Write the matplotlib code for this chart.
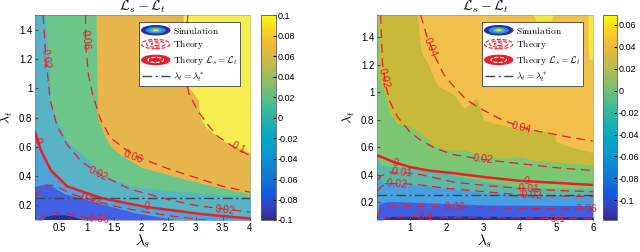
import numpy as np
import matplotlib
matplotlib.use('Agg')
import matplotlib.pyplot as plt
from matplotlib.colors import LinearSegmentedColormap, Normalize
from matplotlib.cm import ScalarMappable
from matplotlib.patches import Ellipse, Patch
from matplotlib.lines import Line2D
from matplotlib.legend_handler import HandlerBase

plt.rcParams['mathtext.fontset'] = 'cm'
plt.rcParams['font.family'] = ['Liberation Sans', 'DejaVu Sans']

# ---- parula (approx.) ----
PARULA = ['#352a87', '#3145c5', '#0f5cdd', '#1375d3', '#0d88d2', '#0a9bd1',
          '#06a7c6', '#1bb0b4', '#38b99d', '#5fbd87', '#8cbd6b', '#b3bc56',
          '#d6ba44', '#f5bb33', '#f6d624', '#f9fb0e']
parula = LinearSegmentedColormap.from_list('parula', PARULA)

# ===== left panel data =====
left_xlim = (0.05, 4.0)
left_ylim = (0.1, 1.5)
left_clim = (-0.1, 0.1)
left_xticks = [0.5, 1, 1.5, 2, 2.5, 3, 3.5, 4]
left_yticks = [0.2, 0.4, 0.6, 0.8, 1.0, 1.2, 1.4]
left_cticks = [-0.1, -0.08, -0.06, -0.04, -0.02, 0, 0.02, 0.04, 0.06, 0.08, 0.1]

# simulation bands: colour of each band, lower boundary (x, y) of each band
left_band_colors = ['#2f2a94', '#4262e6', '#4fa3da', '#58b3c4', '#6cc68a', '#e6b64c', '#f6ee50']
left_b_blue = [(0.05, 0.1), (0.18, 0.1), (0.25, 0.125), (0.4, 0.135), (0.6, 0.135),
               (0.8, 0.12), (0.92, 0.1), (4.0, 0.1)]
left_b_light = [(0.05, 0.33), (0.27, 0.35), (0.59, 0.28), (1.27, 0.21), (1.88, 0.15),
                (2.49, 0.11), (2.8, 0.1), (4.0, 0.1)]
left_b_teal = [(0.05, 0.62), (0.2, 0.55), (0.35, 0.45), (0.64, 0.33), (1.27, 0.25),
               (2.0, 0.19), (3.0, 0.15), (4.0, 0.12)]
left_b_green = [(0.23, 1.5), (0.3, 1.2), (0.33, 0.92), (0.45, 0.78), (0.6, 0.66),
                (0.75, 0.6), (1.0, 0.52), (1.27, 0.42), (1.6, 0.36), (1.88, 0.33),
                (2.49, 0.3), (3.12, 0.28), (4.0, 0.26)]
left_b_orange = [(1.17, 1.5), (1.2, 0.8), (1.3, 0.7), (1.44, 0.6), (1.6, 0.55),
                 (1.87, 0.49), (2.0, 0.46), (2.6, 0.4), (3.23, 0.34), (4.0, 0.28)]
left_b_yellow = [(2.77, 1.5), (2.78, 1.08), (2.89, 1.0), (3.05, 0.92), (3.08, 0.8),
                 (3.2, 0.73), (3.5, 0.64), (3.75, 0.6), (4.0, 0.56)]

# theory contours
left_t_p010 = [(2.86, 1.5), (2.8, 1.3), (2.8, 1.1), (2.88, 0.96), (3.05, 0.84),
               (3.25, 0.74), (3.41, 0.67), (3.7, 0.6), (4.0, 0.54)]
left_t_p006 = [(0.98, 1.5), (0.98, 1.3), (1.03, 1.1), (1.1, 0.97), (1.25, 0.79),
               (1.44, 0.66), (1.87, 0.54), (2.5, 0.45), (3.0, 0.39), (3.5, 0.33), (4.0, 0.29)]
left_t_p002 = [(0.2, 1.5), (0.25, 1.2), (0.33, 0.92), (0.45, 0.75), (0.63, 0.62),
               (0.9, 0.5), (1.25, 0.41), (1.8, 0.31), (2.5, 0.24), (3.0, 0.2),
               (3.5, 0.175), (4.0, 0.155)]
left_t_zero = [(0.05, 0.7), (0.155, 0.58), (0.34, 0.44), (0.64, 0.33), (1.27, 0.25),
               (2.07, 0.19), (3.12, 0.14), (4.0, 0.11)]
left_t_m002 = [(0.05, 0.26), (0.2, 0.32), (0.35, 0.34), (0.5, 0.32), (0.7, 0.28),
               (1.0, 0.245), (1.5, 0.195), (2.0, 0.16), (2.5, 0.13), (3.0, 0.106), (3.2, 0.1)]
left_t_m006 = [(0.12, 0.1), (0.2, 0.125), (0.35, 0.145), (0.5, 0.15), (0.7, 0.14),
               (0.9, 0.125), (1.1, 0.11), (1.4, 0.1)]
left_labels = [('0.1', 3.78, 0.59), ('0.06', 0.98, 1.33), ('0.06', 1.85, 0.535),
               ('0.02', 0.25, 1.2), ('0.02', 1.2, 0.415), ('0.02', 3.55, 0.17),
               ('0', 0.1, 0.64), ('0', 2.1, 0.19), ('-0.02', 1.05, 0.24), ('-0.06', 1.2, 0.105)]

# ===== right panel data =====
right_xlim = (0.1, 6.0)
right_ylim = (0.07, 1.56)
right_clim = (-0.118, 0.069)
right_xticks = [1, 2, 3, 4, 5, 6]
right_yticks = [0.2, 0.4, 0.6, 0.8, 1.0, 1.2, 1.4]
right_cticks = [-0.1, -0.08, -0.06, -0.04, -0.02, 0, 0.02, 0.04, 0.06]

right_band_colors = ['#2f2a94', '#3f5fe6', '#479fe0', '#5cb8a6', '#7bc774', '#c8b93a', '#f0c04a']
right_b_blue = [(0.1, 0.07), (0.25, 0.07), (0.32, 0.095), (2.0, 0.1), (4.0, 0.095), (6.0, 0.092)]
right_b_light = [(0.1, 0.1), (0.16, 0.19), (0.4, 0.205), (1.0, 0.2), (2.0, 0.19),
                 (3.0, 0.18), (4.0, 0.178), (6.0, 0.175)]
right_b_teal = [(0.1, 0.42), (0.25, 0.34), (1.0, 0.33), (2.0, 0.3), (3.0, 0.27),
                (4.0, 0.255), (6.0, 0.25)]
right_b_green = [(0.1, 0.55), (0.2, 0.47), (1.0, 0.45), (2.0, 0.41), (3.0, 0.35),
                 (4.0, 0.31), (5.0, 0.3), (6.0, 0.3)]
right_b_olive = [(0.13, 1.56), (0.15, 1.1), (0.3, 1.0), (0.45, 0.85), (0.66, 0.77),
                 (1.0, 0.75), (1.3, 0.7), (1.6, 0.62), (2.0, 0.58), (2.5, 0.58),
                 (3.0, 0.53), (3.5, 0.52), (4.0, 0.53), (4.5, 0.5), (5.0, 0.49), (6.0, 0.47)]
right_b_orange = [(1.2, 1.56), (1.3, 1.3), (1.5, 1.2), (1.75, 1.05), (2.2, 0.98),
                  (2.47, 0.88), (2.83, 0.96), (3.0, 0.8), (3.5, 0.76), (4.0, 0.73),
                  (4.9, 0.71), (5.0, 0.64), (5.4, 0.6), (6.0, 0.56)]
right_yellow_top = [(4.37, 1.56), (4.45, 1.52), (4.85, 1.52), (4.9, 1.56)]
right_yellow_edge = [(5.86, 1.35), (5.9, 1.24), (6.0, 1.24)]

right_t_p004 = [(1.29, 1.56), (1.47, 1.4), (1.7, 1.25), (1.92, 1.13), (2.2, 1.04),
                (2.56, 0.94), (3.0, 0.87), (3.5, 0.8), (4.0, 0.75), (4.5, 0.715),
                (5.0, 0.69), (5.5, 0.665), (6.0, 0.645)]
right_t_p002 = [(0.2, 1.56), (0.25, 1.21), (0.34, 1.05), (0.45, 0.93), (0.66, 0.82),
                (1.0, 0.71), (1.29, 0.65), (1.7, 0.59), (2.2, 0.545), (3.0, 0.51),
                (4.0, 0.48), (5.0, 0.45), (6.0, 0.43)]
right_t_zero = [(0.1, 0.54), (0.3, 0.52), (0.57, 0.49), (1.0, 0.455), (1.5, 0.43),
                (2.2, 0.41), (3.1, 0.38), (4.0, 0.355), (5.0, 0.34), (6.0, 0.325)]
right_t_m001 = [(0.12, 0.36), (0.2, 0.39), (0.4, 0.41), (0.8, 0.415), (1.3, 0.4),
                (2.2, 0.345), (3.1, 0.32), (4.0, 0.3), (5.0, 0.285), (6.0, 0.275)]
right_t_m002 = [(0.12, 0.28), (0.2, 0.31), (0.4, 0.335), (0.8, 0.335), (1.3, 0.325),
                (2.0, 0.3), (2.65, 0.285), (3.5, 0.265), (4.2, 0.25), (5.0, 0.245), (6.0, 0.24)]
right_t_m006 = [(0.12, 0.1), (0.2, 0.14), (0.4, 0.165), (1.0, 0.17), (2.0, 0.165),
                (3.0, 0.16), (4.0, 0.155), (5.0, 0.15), (6.0, 0.15)]
right_t_m010 = [(0.25, 0.07), (0.4, 0.088), (1.0, 0.095), (2.0, 0.09), (4.0, 0.085),
                (5.0, 0.08), (6.0, 0.078)]
right_labels = [('0.04', 1.56, 1.33), ('0.04', 4.05, 0.745), ('0.02', 0.3, 1.1),
                ('0.02', 3.0, 0.51), ('0', 0.6, 0.485), ('0', 4.2, 0.35),
                ('-0.01', 0.75, 0.415), ('-0.01', 4.2, 0.298), ('-0.02', 0.62, 0.335),
                ('-0.02', 4.3, 0.249), ('-0.06', 2.2, 0.165), ('-0.06', 5.8, 0.15),
                ('-0.1', 1.4, 0.092), ('-0.1', 5.0, 0.08)]

LAMBDA_STAR = 0.25

RED = '#e8202a'
STAR_COLOR = '#3c4a48'
DASH = (0, (7, 4.5))
DASHDOT = (0, (7, 2.5, 1.5, 2.5))


class RingHandler(HandlerBase):
    """legend icon made of concentric ellipses"""
    def __init__(self, rings):
        super().__init__()
        self.rings = rings

    def create_artists(self, legend, orig_handle, xdescent, ydescent,
                       width, height, fontsize, trans):
        cx, cy = 0.5 * width - xdescent, 0.5 * height - ydescent
        out = []
        for s, fc, ec, ls in self.rings:
            out.append(Ellipse((cx, cy), width * s, height * s * 1.2,
                               facecolor=fc, edgecolor=ec, linestyle=ls,
                               linewidth=0.8, transform=trans))
        return out


def put_label(ax, pts, x, y, txt):
    P = ax.transData.transform(np.asarray(pts, dtype=float))
    q = ax.transData.transform((x, y))
    d = np.hypot(P[:, 0] - q[0], P[:, 1] - q[1])
    i = min(int(np.argmin(d)), len(P) - 2)
    dx, dy = P[i + 1] - P[i]
    ang = np.degrees(np.arctan2(dy, dx))
    if ang > 90:
        ang -= 180
    if ang < -90:
        ang += 180
    ax.text(x, y, txt, color=RED, fontsize=7.5, rotation=ang,
            rotation_mode='anchor', ha='center', va='center', zorder=6)


def draw_panel(ax, cax, xlim, ylim, clim, band_colors, bounds, dashed, zero,
               labels, xticks, yticks, cticks):
    ax.set_xlim(*xlim)
    ax.set_ylim(*ylim)
    # simulation (filled bands)
    ax.fill_between(list(xlim), ylim[0], ylim[1], color=band_colors[0], lw=0, zorder=1)
    for col, b in zip(band_colors[1:], bounds):
        bx, by = zip(*b)
        ax.fill_between(bx, by, ylim[1], color=col, lw=0, zorder=1)
    # theory
    for c in dashed:
        cx, cy = zip(*c)
        ax.plot(cx, cy, color=RED, lw=0.9, ls=DASH, zorder=4)
    zx, zy = zip(*zero)
    ax.plot(zx, zy, color=RED, lw=1.8, zorder=4)
    ax.axhline(LAMBDA_STAR, color=STAR_COLOR, lw=1.0, ls=DASHDOT, zorder=5)

    for txt, x, y in labels:
        # nearest curve to the label point
        best = None
        for c in dashed + [zero]:
            arr = np.asarray(c)
            dd = np.min(np.hypot(arr[:, 0] - x, arr[:, 1] - y))
            if arr[0, 0] <= x <= arr[-1, 0]:
                dd = min(dd, abs(np.interp(x, arr[:, 0], arr[:, 1]) - y))
            if best is None or dd < best[0]:
                best = (dd, c)
        put_label(ax, best[1], x, y, txt)

    ax.set_xticks(xticks, [f'{t:g}' for t in xticks])
    ax.set_yticks(yticks, [f'{t:g}' for t in yticks])
    ax.tick_params(labelsize=7, length=2, direction='in', color='0.3', pad=2)
    for s in ax.spines.values():
        s.set_visible(False)
    ax.set_xlabel(r'$\lambda_s$', fontsize=11, labelpad=0)
    ax.set_ylabel(r'$\lambda_t$', fontsize=10)
    ax.yaxis.set_label_coords(-0.092, 0.5)
    ax.set_title(r'$\mathcal{L}_s - \mathcal{L}_t$', fontsize=10, pad=3)

    # legend
    h1, h2, h3 = Patch(), Patch(), Patch()
    h4 = Line2D([], [], color=STAR_COLOR, lw=1.0, ls=DASHDOT)
    hm = {
        h1: RingHandler([(1.0, '#2c2c9c', '#2c2c9c', '-'), (0.72, '#2f86e0', 'none', '-'),
                         (0.45, '#3cc0b0', 'none', '-'), (0.22, '#f2e020', 'none', '-')]),
        h2: RingHandler([(1.0, 'none', RED, '--'), (0.65, 'none', RED, '--'),
                         (0.3, 'none', RED, '--')]),
        h3: RingHandler([(1.0, RED, RED, '-'), (0.55, 'none', 'white', '--')]),
    }
    leg = ax.legend([h1, h2, h3, h4],
                    [r'$\mathrm{Simulation}$', r'$\mathrm{Theory}$',
                     r'$\mathrm{Theory}\ \mathcal{L}_s=\mathcal{L}_t$',
                     r'$\lambda_t=\lambda_t^*$'],
                    handler_map=hm, loc='upper right', bbox_to_anchor=(0.955, 0.968),
                    fontsize=6.8, fancybox=False, framealpha=1, edgecolor='0.25',
                    borderpad=0.3, labelspacing=0.3, handlelength=3.0,
                    handleheight=0.9, handletextpad=0.3, borderaxespad=0)
    leg.get_frame().set_linewidth(0.6)
    leg.set_zorder(10)

    # colorbar
    cb = plt.colorbar(ScalarMappable(Normalize(*clim), parula), cax=cax)
    cb.set_ticks(cticks, labels=[f'{t:g}' for t in cticks])
    cax.tick_params(labelsize=6.5, length=2, direction='in', pad=1.5)
    cb.outline.set_linewidth(0.6)
    cb.outline.set_edgecolor('0.35')


fig = plt.figure(figsize=(6.4, 2.52), dpi=100)
ax1 = fig.add_axes([35 / 640, 0.127, 215 / 640, 0.813])
cax1 = fig.add_axes([261 / 640, 0.127, 15 / 640, 0.813])
ax2 = fig.add_axes([377 / 640, 0.127, 216 / 640, 0.813])
cax2 = fig.add_axes([603 / 640, 0.127, 14 / 640, 0.813])

draw_panel(ax1, cax1, left_xlim, left_ylim, left_clim, left_band_colors,
           [left_b_blue, left_b_light, left_b_teal, left_b_green, left_b_orange, left_b_yellow],
           [left_t_p010, left_t_p006, left_t_p002, left_t_m002, left_t_m006], left_t_zero,
           left_labels, left_xticks, left_yticks, left_cticks)

draw_panel(ax2, cax2, right_xlim, right_ylim, right_clim, right_band_colors,
           [right_b_blue, right_b_light, right_b_teal, right_b_green, right_b_olive, right_b_orange],
           [right_t_p004, right_t_p002, right_t_m001, right_t_m002, right_t_m006, right_t_m010],
           right_t_zero, right_labels, right_xticks, right_yticks, right_cticks)

# small bright patches in the right panel
for patch in (right_yellow_top, right_yellow_edge):
    px, py = zip(*patch)
    ax2.fill_between(px, py, right_ylim[1], color='#f5e842', lw=0, zorder=1)

fig.savefig('out.png', dpi=100, facecolor='white')
